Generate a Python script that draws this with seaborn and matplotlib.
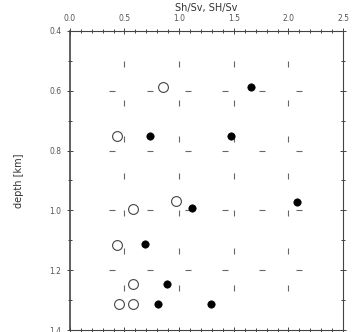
import numpy as np
import pandas as pd
import matplotlib
matplotlib.use('Agg')
import matplotlib.pyplot as plt
import seaborn as sns
from matplotlib.ticker import MultipleLocator, FormatStrFormatter

# Sh/Sv (open circles) and SH/Sv (filled circles) vs depth
sh_ratio = [0.85, 0.43, 0.58, 0.97, 0.43, 0.58, 0.45, 0.58]
sh_depth = [0.587, 0.75, 0.997, 0.97, 1.117, 1.247, 1.313, 1.313]
SH_ratio = [1.66, 0.73, 1.47, 2.08, 1.12, 0.69, 0.89, 0.81, 1.29]
SH_depth = [0.587, 0.75, 0.75, 0.973, 0.993, 1.113, 1.247, 1.313, 1.313]

# faint dashed grid marks
hgrid_x = [0.385, 0.73, 1.08, 1.42, 1.76, 2.1]
hgrid_y = [0.6, 0.8, 1.0, 1.2]
vgrid_x = [0.5, 1.0, 1.5, 2.0]
vgrid_y = [0.51, 0.64, 0.76, 0.885, 1.01, 1.135, 1.26]

sns.set_style('ticks')
plt.rcParams['font.family'] = ['DejaVu Sans']

fig = plt.figure(figsize=(3.6, 3.32), dpi=100)
ax = fig.add_axes([0.194, 0.006, 0.759, 0.901])

hx, hy = np.meshgrid(hgrid_x, hgrid_y)
vx, vy = np.meshgrid(vgrid_x, vgrid_y)
ax.scatter(hx.ravel(), hy.ravel(), marker='_', s=18, color='#666666', linewidths=0.8)
ax.scatter(vx.ravel(), vy.ravel(), marker='|', s=18, color='#666666', linewidths=0.8)

df_open = pd.DataFrame({'ratio': sh_ratio, 'depth': sh_depth})
df_fill = pd.DataFrame({'ratio': SH_ratio, 'depth': SH_depth})
sns.scatterplot(data=df_open, x='ratio', y='depth', ax=ax, s=50,
                facecolor='white', edgecolor='#444444', linewidth=0.8, zorder=3)
sns.scatterplot(data=df_fill, x='ratio', y='depth', ax=ax, s=28,
                color='black', edgecolor='black', linewidth=0.5, zorder=3)

ax.set_xlim(0, 2.5)
ax.set_ylim(1.4, 0.4)
ax.xaxis.set_major_locator(MultipleLocator(0.5))
ax.xaxis.set_minor_locator(MultipleLocator(0.1))
ax.yaxis.set_major_locator(MultipleLocator(0.2))
ax.yaxis.set_minor_locator(MultipleLocator(0.1))
ax.xaxis.tick_top()
ax.xaxis.set_label_position('top')
ax.tick_params(which='both', direction='inout', top=True, bottom=True, left=True, right=True,
               labelsize=5.5, labelcolor='#555555', color='#444444', width=0.7)
ax.tick_params(which='major', length=5)
ax.tick_params(which='minor', length=3)
ax.xaxis.set_major_formatter(FormatStrFormatter('%.1f'))
ax.yaxis.set_major_formatter(FormatStrFormatter('%.1f'))

ax.set_xlabel('Sh/Sv, SH/Sv', fontsize=7, color='#333333', labelpad=2)
ax.set_ylabel('depth [km]', fontsize=7, color='#333333', labelpad=18)
for sp in ax.spines.values():
    sp.set_color('#444444')
    sp.set_linewidth(0.8)
ax.spines['left'].set_linewidth(1.2)

fig.savefig('out.png', dpi=100)
